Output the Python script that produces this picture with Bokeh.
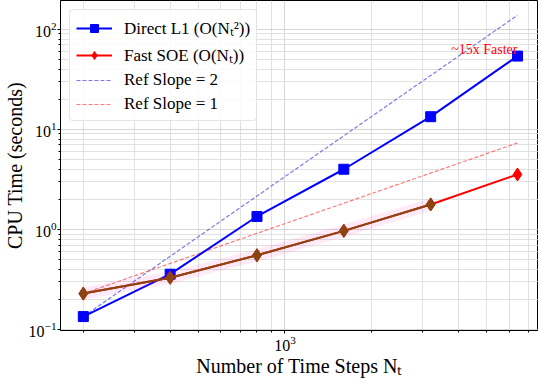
from bokeh.plotting import figure
from bokeh.models import Range1d, FixedTicker, Legend, LegendItem, LogTickFormatter
from bokeh.core.properties import value
from bokeh.embed import file_html
from bokeh.resources import INLINE

# ---- data ----
nt = [200, 400, 800, 1600, 3200, 6400]
direct_l1 = [0.135, 0.358, 1.35, 4.0, 13.4, 54.0]
fast_soe = [0.229, 0.33, 0.553, 0.97, 1.78, 3.55]
ref_slope2 = [direct_l1[0] * (n / nt[0]) ** 2 for n in nt]
ref_slope1 = [fast_soe[0] * (n / nt[0]) for n in nt]
x_major = [1000]
x_minor = [200, 300, 400, 500, 600, 700, 800, 900, 2000, 3000, 4000, 5000, 6000, 7000]
y_major = [0.1, 1, 10, 100]
y_minor = [m * d for d in [0.1, 1, 10, 100] for m in range(2, 10)]

FONT = "Liberation Serif"

p = figure(frame_width=478, frame_height=330, x_axis_type="log", y_axis_type="log",
           x_range=Range1d(166.7, 7568), y_range=Range1d(0.098, 194),
           output_backend="svg", toolbar_location=None,
           min_border_left=0, min_border_right=0, min_border_top=0, min_border_bottom=0)

p.background_fill_color = "white"
p.outline_line_color = "black"
p.outline_line_width = 1

for ax in (p.xaxis[0], p.yaxis[0]):
    ax.axis_line_color = "black"
    ax.major_tick_line_color = "black"
    ax.minor_tick_line_color = "black"
    ax.major_tick_out = 3
    ax.major_tick_in = 0
    ax.minor_tick_out = 2
    ax.minor_tick_in = 0
    ax.major_label_text_font = FONT
    ax.major_label_text_font_size = "16px"
    ax.major_label_text_color = "black"
    ax.axis_label_text_font = FONT
    ax.axis_label_text_font_size = "20px"
    ax.axis_label_text_font_style = "normal"
    ax.axis_label_text_color = "black"
    ax.formatter = LogTickFormatter()

p.xaxis.ticker = FixedTicker(ticks=x_major, minor_ticks=x_minor)
p.yaxis.ticker = FixedTicker(ticks=y_major, minor_ticks=y_minor)
p.xaxis.axis_label = "Number of Time Steps Nₜ"
p.yaxis.axis_label = "CPU Time (seconds)"
p.xaxis.major_label_standoff = 2
p.yaxis.major_label_standoff = 1
p.xaxis.axis_label_standoff = 1
p.yaxis.axis_label_standoff = 0

for g in (p.xgrid[0], p.ygrid[0]):
    g.grid_line_color = "#cccccc"
    g.grid_line_width = 1
    g.grid_line_alpha = 0.8
    g.minor_grid_line_color = "#d9d9d9"
    g.minor_grid_line_alpha = 0.8
    g.minor_grid_line_width = 1
p.xgrid[0].ticker = FixedTicker(ticks=x_major, minor_ticks=x_minor)
p.ygrid[0].ticker = FixedTicker(ticks=y_major, minor_ticks=y_minor)

# reference slopes
r2 = p.line(nt, ref_slope2, line_color="#5050e0", line_alpha=0.75, line_width=1.2, line_dash="4 2")
r1 = p.line(nt, ref_slope1, line_color="#ff5050", line_alpha=0.75, line_width=1.2, line_dash="4 2")

# direct L1
dl = p.line(nt, direct_l1, line_color="#0000ff", line_width=2)
dm = p.scatter(nt, direct_l1, marker="square", size=10, fill_color="#0000ff", line_color="#0000ff")

# fast SOE
p.line(nt[:5], fast_soe[:5], line_color="#ff00aa", line_alpha=0.08, line_width=12)
fl = p.line(nt, fast_soe, line_color="#ff0000", line_width=2)
fm = p.scatter(nt, fast_soe, marker="diamond", size=13, fill_color="#ff0000", line_color="#ff0000")
p.line(nt[:5], fast_soe[:5], line_color="#8b4513", line_width=2)
p.scatter(nt[:5], fast_soe[:5], marker="diamond", size=13, fill_color="#8b4513", line_color="#8b4513")

p.text(x=[6400], y=[63], text=["~15x Faster"], text_color="#ff0000", text_font=value(FONT),
       text_font_size="14px", text_align="right", text_baseline="middle")

legend = Legend(items=[
    LegendItem(label="Direct L1 (O(Nₜ²))", renderers=[dl, dm]),
    LegendItem(label="Fast SOE (O(Nₜ))", renderers=[fl, fm]),
    LegendItem(label="Ref Slope = 2", renderers=[r2]),
    LegendItem(label="Ref Slope = 1", renderers=[r1]),
], location="top_left")
legend.label_text_font = FONT
legend.label_text_font_size = "17px"
legend.label_text_color = "black"
legend.glyph_width = 36
legend.glyph_height = 20
legend.spacing = 4
legend.padding = 6
legend.margin = 9
legend.label_standoff = 12
legend.border_line_color = "#cccccc"
legend.border_line_width = 1
legend.border_radius = 4
legend.background_fill_alpha = 0.85
p.add_layout(legend)

open("out.html", "w").write(file_html(p, INLINE))
